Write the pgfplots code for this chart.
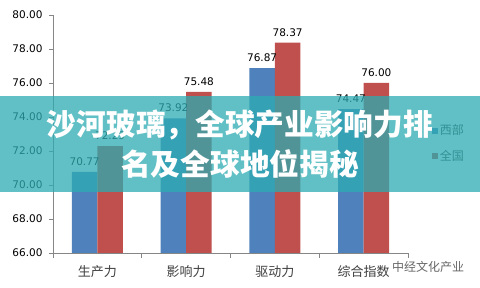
\documentclass[border=0pt]{standalone}
\usepackage{fontspec}
\setmainfont{DejaVu Sans}
\newfontfamily\cjk{Noto Sans CJK SC}
\newfontfamily\cjkblack{Noto Sans CJK SC Black}
\usepackage{pgfplots}
\pgfplotsset{compat=1.18}
\definecolor{xbblue}{HTML}{4F81BD}
\definecolor{xbred}{HTML}{C0504D}
\definecolor{axgray}{HTML}{868686}
\definecolor{banner}{RGB}{45,172,178}
\begin{document}
\begin{tikzpicture}[x=1pt,y=1pt]
\useasboundingbox (0,0) rectangle (480,288);
\fill[white] (0,0) rectangle (480,288);
\begin{axis}[
  at={(53pt,35pt)}, anchor=south west,
  scale only axis, width=355pt, height=238pt,
  ymin=66, ymax=80, ytick={66,68,...,80},
  xmin=-0.5, xmax=3.5,
  axis x line*=bottom, axis y line*=left,
  axis line style={-, draw=axgray, line width=0.8pt},
  ybar=0pt, bar width=25.5pt,
  xtick={0,1,2,3},
  xticklabels={生产力,影响力,驱动力,综合指数},
  xticklabel style={font=\cjk\fontsize{13}{13}\selectfont, text=black!75, yshift=-5pt},
  major x tick style={draw=none},
  minor xtick={-0.5,0.5,1.5,2.5,3.5},
  minor x tick style={draw=axgray, line width=0.8pt},
  minor tick length=5pt,
  major tick length=4pt,
  tick align=outside,
  ytick style={draw=axgray, line width=0.8pt},
  yticklabel style={font=\fontsize{10.5}{12}\selectfont, text=black, xshift=-3pt,
     /pgf/number format/.cd, fixed, fixed zerofill, precision=2},
  /pgf/number format/assume math mode=true,
  nodes near coords,
  every node near coord/.append style={font=\fontsize{10.5}{12}\selectfont, text=black, yshift=3pt,
     /pgf/number format/.cd, fixed, fixed zerofill, precision=2},
  legend style={at={(1.058,0.46)}, anchor=west, draw=none, fill=none,
     font=\cjk\fontsize{12}{12}\selectfont, text=black!75, row sep=10pt,
     /tikz/every even column/.append style={column sep=0pt}},
  legend image code/.code={\fill[#1] (0pt,-3pt) rectangle (6pt,3pt);},
  clip=false,
]
\addplot[fill=xbblue, draw=none] coordinates {(0,70.77) (1,73.92) (2,76.87) (3,74.47)};
\addplot[fill=xbred, draw=none] coordinates {(0,72.29) (1,75.48) (2,78.37) (3,76.00)};
\legend{西部,全国}
\end{axis}
\fill[banner, opacity=0.75] (0,96) rectangle (480,192);
\node[text=white, font=\cjkblack\fontsize{29.7}{29.7}\selectfont, inner sep=0pt] at (240,163) {沙河玻璃，全球产业影响力排};
\node[text=white, font=\cjkblack\fontsize{29.7}{29.7}\selectfont, inner sep=0pt] at (240,124) {名及全球地位揭秘};
\node[text=black!60, font=\cjk\fontsize{12}{12}\selectfont, inner sep=0pt] at (428,21) {中经文化产业};
\end{tikzpicture}
\end{document}
